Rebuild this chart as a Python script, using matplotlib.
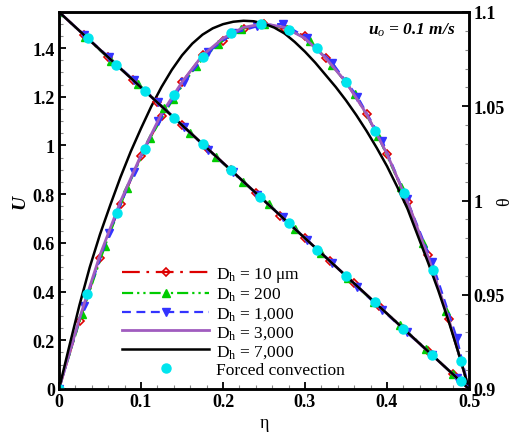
import matplotlib
matplotlib.use('Agg')
import matplotlib.pyplot as plt
from matplotlib.ticker import MultipleLocator, FormatStrFormatter

# ---- data ----
# velocity U (left axis)
eta_grid = [0, 0.025, 0.05, 0.075, 0.1, 0.125, 0.15, 0.175, 0.2, 0.225, 0.25,
            0.275, 0.3, 0.325, 0.35, 0.375, 0.4, 0.425, 0.45, 0.475, 0.5]
U_red = [0, 0.28, 0.537, 0.76, 0.957, 1.12, 1.26, 1.37, 1.43, 1.48, 1.50,
         1.48, 1.45, 1.36, 1.26, 1.13, 0.965, 0.768, 0.55, 0.287, 0]
eta_green = [0, 0.028, 0.056, 0.083, 0.111, 0.139, 0.167, 0.194, 0.222, 0.25,
             0.278, 0.306, 0.333, 0.361, 0.389, 0.417, 0.444, 0.472, 0.5]
U_green = [0, 0.31, 0.587, 0.825, 1.03, 1.19, 1.326, 1.417, 1.48, 1.50,
           1.48, 1.43, 1.33, 1.21, 1.04, 0.83, 0.60, 0.32, 0]
eta_blue = [0, 0.030, 0.061, 0.091, 0.121, 0.152, 0.182, 0.212, 0.242,
            0.273, 0.303, 0.333, 0.364, 0.394, 0.424, 0.455, 0.485, 0.5]
U_blue = [0, 0.34, 0.64, 0.89, 1.10, 1.26, 1.384, 1.46, 1.49,
          1.50, 1.44, 1.34, 1.20, 1.02, 0.78, 0.52, 0.21, 0]
U_purple = [0, 0.29, 0.55, 0.77, 0.96, 1.13, 1.26, 1.37, 1.44, 1.485, 1.50,
            1.485, 1.44, 1.36, 1.26, 1.13, 0.965, 0.77, 0.545, 0.29, 0]
# black curve read on a finer grid (it is drawn without markers)
eta_fine = [0, 0.0125, 0.025, 0.0375, 0.05, 0.0625, 0.075, 0.0875, 0.1, 0.1125,
            0.125, 0.1375, 0.15, 0.1625, 0.175, 0.1875, 0.2, 0.2125, 0.225, 0.2375,
            0.25, 0.2625, 0.275, 0.2875, 0.3, 0.3125, 0.325, 0.3375, 0.35, 0.3625,
            0.375, 0.3875, 0.4, 0.4125, 0.425, 0.4375, 0.45, 0.4625, 0.475, 0.4875, 0.5]
U_black = [0, 0.175, 0.345, 0.50, 0.635, 0.755, 0.87, 0.975, 1.07, 1.16,
           1.24, 1.31, 1.37, 1.418, 1.455, 1.481, 1.498, 1.508, 1.512, 1.51,
           1.50, 1.484, 1.46, 1.425, 1.385, 1.34, 1.29, 1.24, 1.185, 1.125,
           1.06, 0.99, 0.915, 0.83, 0.74, 0.63, 0.52, 0.405, 0.28, 0.145, 0]
eta_cyan = [0, 0.034, 0.071, 0.105, 0.140, 0.175, 0.21, 0.246, 0.28, 0.315,
            0.35, 0.385, 0.421, 0.456, 0.49]
U_cyan = [0, 0.39, 0.722, 0.985, 1.207, 1.363, 1.46, 1.498, 1.474, 1.40,
          1.26, 1.06, 0.805, 0.489, 0.115]

# temperature theta (right axis)
eta_red_T = [0, 0.03, 0.06, 0.09, 0.12, 0.15, 0.18, 0.21, 0.24, 0.27, 0.30,
             0.33, 0.36, 0.39, 0.42, 0.45, 0.48, 0.5]
T_red = [1.1, 1.088, 1.076, 1.064, 1.052, 1.040, 1.028, 1.016, 1.004, 0.992,
         0.980, 0.968, 0.956, 0.944, 0.932, 0.920, 0.908, 0.9]
eta_green_T = [0, 0.032, 0.064, 0.096, 0.128, 0.16, 0.192, 0.224, 0.256,
               0.288, 0.32, 0.352, 0.384, 0.416, 0.448, 0.48, 0.5]
T_green = [1.1, 1.087, 1.074, 1.062, 1.049, 1.036, 1.023, 1.010, 0.998,
           0.985, 0.972, 0.959, 0.946, 0.934, 0.921, 0.908, 0.9]
T_blue = [1.1, 1.088, 1.076, 1.064, 1.052, 1.039, 1.027, 1.015, 1.003,
          0.991, 0.979, 0.967, 0.954, 0.942, 0.930, 0.918, 0.906, 0.9]
eta_ends = [0, 0.5]
T_purple = [1.1, 0.9]
T_black = [1.1, 0.9]
eta_cyan_T = [0.035, 0.07, 0.105, 0.14, 0.175, 0.21, 0.245, 0.28, 0.315,
              0.35, 0.385, 0.42, 0.455, 0.49]
T_cyan = [1.086, 1.072, 1.058, 1.044, 1.030, 1.016, 1.002, 0.988, 0.974,
          0.960, 0.946, 0.932, 0.918, 0.904]

labels = ['D$_\\mathrm{h}$ = 10 \u03bcm', 'D$_\\mathrm{h}$ = 200', 'D$_\\mathrm{h}$ = 1,000',
          'D$_\\mathrm{h}$ = 3,000', 'D$_\\mathrm{h}$ = 7,000', 'Forced convection']

plt.rcParams['font.family'] = ['Liberation Serif', 'DejaVu Serif']
plt.rcParams['mathtext.fontset'] = 'custom'
plt.rcParams['mathtext.rm'] = 'Liberation Serif'
plt.rcParams['mathtext.it'] = 'Liberation Serif:italic'
plt.rcParams['mathtext.bf'] = 'Liberation Serif:bold'

c_red = '#dd0000'
c_green = '#00cc00'
c_blue = '#3333ff'
c_purple = '#a05cbf'
c_black = 'black'
c_cyan = '#00e5ee'

fig = plt.figure(figsize=(5.16, 4.39), dpi=100)
ax = fig.add_axes([59 / 516, 1 - 390 / 439, 410 / 516, 377 / 439])
ax2 = ax.twinx()

red_style = dict(color=c_red, lw=1.6, dashes=[8, 3, 1.2, 3], marker='D', ms=4.5,
                 mfc='none', mec=c_red, mew=1.2)
green_style = dict(color=c_green, lw=1.6, dashes=[5, 1.8, 1, 1.8, 1, 1.8], marker='^',
                   ms=6, mfc=c_green, mec=c_green)
blue_style = dict(color=c_blue, lw=1.6, dashes=[4, 2.5], marker='v', ms=6,
                  mfc=c_blue, mec=c_blue)
purple_style = dict(color=c_purple, lw=2.0, ls='-')
black_style = dict(color=c_black, lw=1.8, ls='-')
cyan_style = dict(ls='none', marker='o', ms=6.5, mfc=c_cyan, mec=c_cyan)

# U profiles
h1, = ax.plot(eta_grid, U_red, label=labels[0], **red_style)
h2, = ax.plot(eta_green, U_green, label=labels[1], **green_style)
h3, = ax.plot(eta_blue, U_blue, label=labels[2], **blue_style)
h4, = ax.plot(eta_grid, U_purple, label=labels[3], **purple_style)
h5, = ax.plot(eta_fine, U_black, label=labels[4], **black_style)
h6, = ax.plot(eta_cyan, U_cyan, label=labels[5], zorder=5, **cyan_style)

# theta profiles
ax2.plot(eta_red_T, T_red, **red_style)
ax2.plot(eta_green_T, T_green, **green_style)
ax2.plot(eta_blue, T_blue, **blue_style)
ax2.plot(eta_ends, T_purple, **purple_style)
ax2.plot(eta_ends, T_black, **black_style)
ax2.plot(eta_cyan_T, T_cyan, zorder=5, **cyan_style)

ax.set_xlim(0, 0.5)
ax.set_ylim(0, 1.548)
ax2.set_ylim(0.9, 1.1)

for a in (ax, ax2):
    for s in a.spines.values():
        s.set_linewidth(1.8)

ax.xaxis.set_major_locator(MultipleLocator(0.1))
ax.xaxis.set_minor_locator(MultipleLocator(0.02))
ax.yaxis.set_major_locator(MultipleLocator(0.2))
ax.yaxis.set_minor_locator(MultipleLocator(0.05))
ax2.yaxis.set_major_locator(MultipleLocator(0.05))
ax2.yaxis.set_minor_locator(MultipleLocator(0.01))
ax.xaxis.set_major_formatter(FormatStrFormatter('%g'))
ax.yaxis.set_major_formatter(FormatStrFormatter('%g'))
ax2.yaxis.set_major_formatter(FormatStrFormatter('%g'))

ax.tick_params(which='both', direction='in', top=False, right=False,
               labelsize=13, pad=3)
ax.tick_params(which='major', length=5, width=1.3)
ax.tick_params(which='minor', length=3, width=0.8, color='#888888')
ax2.tick_params(which='both', direction='in', labelsize=13, pad=3)
ax2.tick_params(which='major', length=5, width=1.3)
ax2.tick_params(which='minor', length=3, width=0.8, color='#888888')
for lab in ax.get_xticklabels() + ax.get_yticklabels() + ax2.get_yticklabels():
    lab.set_fontweight('bold')

ax.set_xlabel('\u03b7', fontsize=13, labelpad=3)
ax.set_ylabel('U', fontsize=14, fontweight='bold', fontstyle='italic', labelpad=3)
ax2.set_ylabel('\u03b8', fontsize=13, rotation=90, ha='center', va='center')
ax2.yaxis.set_label_coords(1.088, 0.5)

ax.text(0.966, 0.955, 'u$_{\\mathit{o}}$ = 0.1 m/s', transform=ax.transAxes,
        ha='right', va='center', fontsize=12.5, fontweight='bold', fontstyle='italic')

leg = ax.legend(handles=[h1, h2, h3, h4, h5, h6], loc='lower left',
                bbox_to_anchor=(0.154, 0.03), frameon=False, fontsize=12.5,
                handlelength=5.0, handletextpad=0.4, labelspacing=0.11,
                borderpad=0, borderaxespad=0, numpoints=1)
leg.set_zorder(10)

fig.savefig('out.png', dpi=100)
